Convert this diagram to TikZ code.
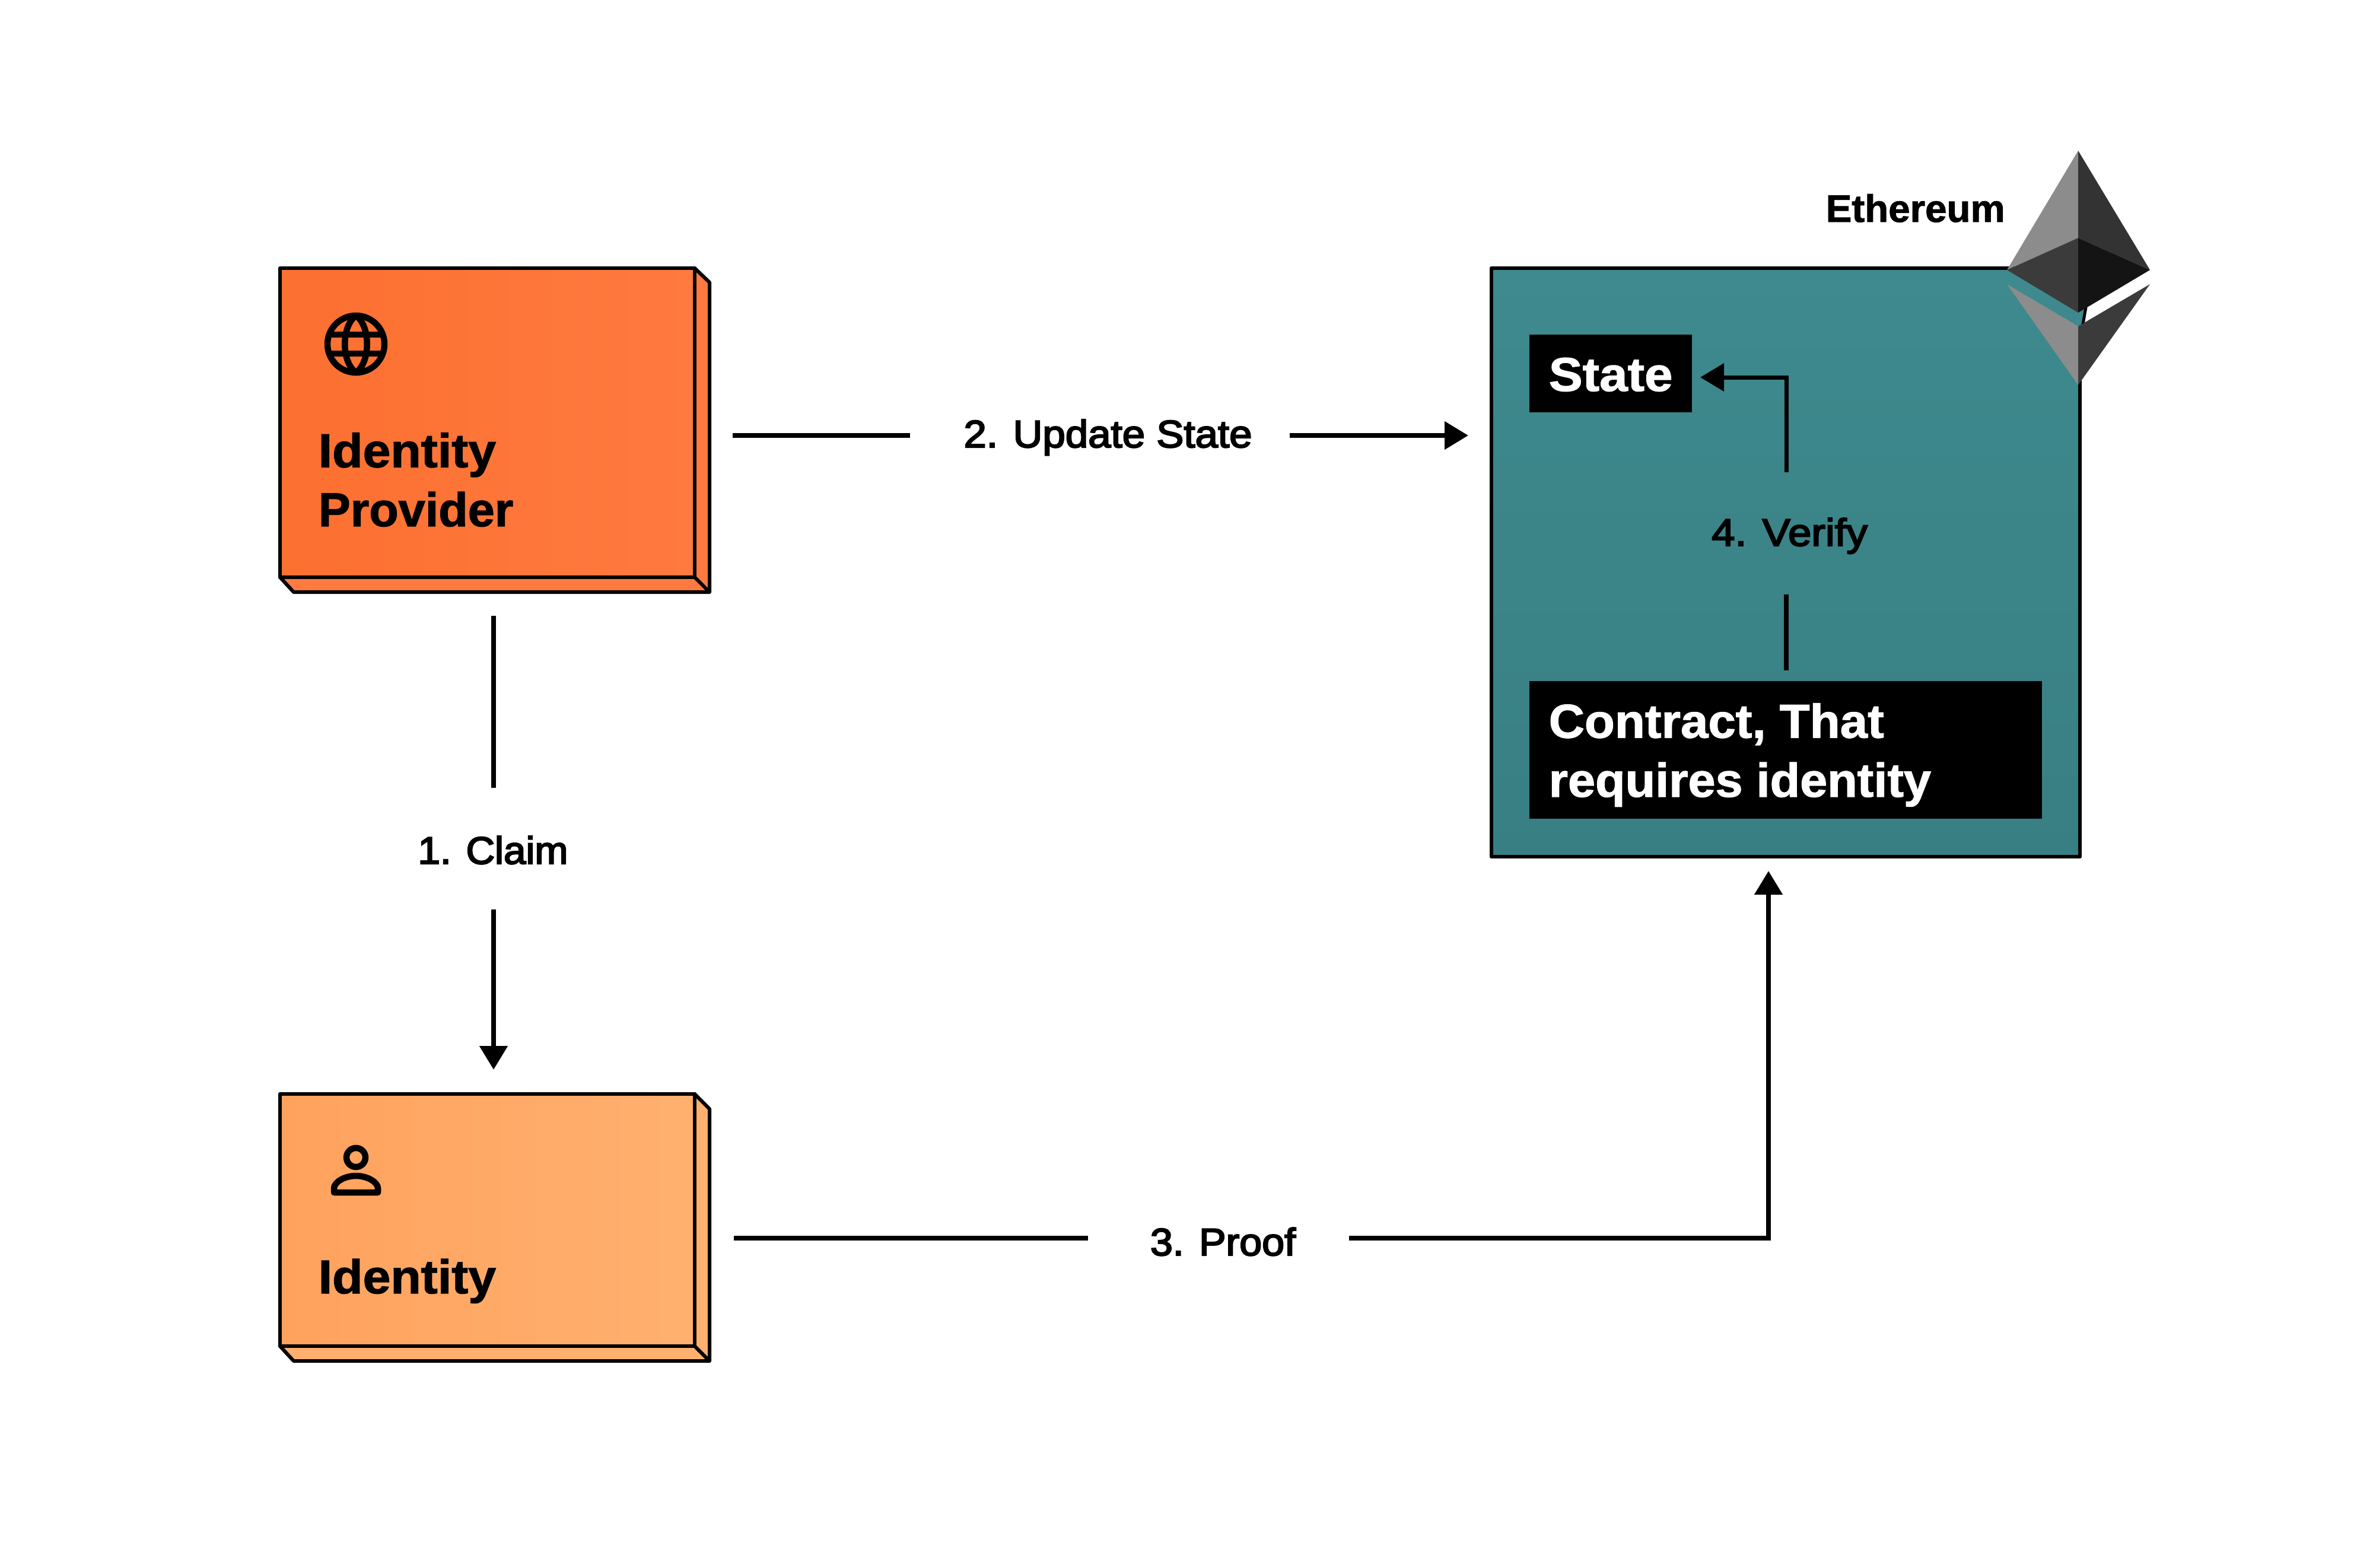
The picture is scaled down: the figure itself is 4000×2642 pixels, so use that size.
\documentclass[tikz,border=0pt]{standalone}
\usepackage{fontspec}
\setmainfont{Liberation Sans}
\newfontfamily\heavyfont[FakeBold=1.5]{Liberation Sans Bold}
\newfontfamily\midfont[FakeBold=3.5]{Liberation Sans}
\newcommand{\widened}[2]{{\addfontfeature{FakeStretch=#1}#2}}
\usetikzlibrary{arrows.meta}
\definecolor{inkc}{HTML}{000000}
\definecolor{ipLeft}{HTML}{FC7030}
\definecolor{ipRight}{HTML}{FF7A40}
\definecolor{idLeft}{HTML}{FFA25E}
\definecolor{idRight}{HTML}{FFB06F}
\definecolor{tealTop}{HTML}{3E8A8E}
\definecolor{tealBot}{HTML}{387F83}
\tikzset{
  panel/.style={draw=inkc,line width=0.06cm,rectangle,inner sep=0pt,outer sep=0pt,line join=round},
  face/.style={draw=inkc,line width=0.06cm,line join=round},
  conn/.style={draw=inkc,line width=0.08cm},
  arrowed/.style={conn,-{Triangle[length=0.40cm,width=0.46cm]}},
  boxlabel/.style={anchor=base west,inner sep=0pt,font=\heavyfont\fontsize{22.8pt}{28.3pt}\selectfont,align=left,text=inkc},
  steplabel/.style={anchor=base,inner sep=0pt,font=\midfont\fontsize{18.4pt}{22pt}\selectfont,text=inkc},
  whitelabel/.style={boxlabel,text=white},
  blackbox/.style={fill=inkc,draw=none,rectangle,inner sep=0pt,outer sep=0pt},
  icon/.style={draw=inkc,line width=0.105cm,line join=round}
}
\begin{document}
\begin{tikzpicture}[x=0.01cm,y=-0.01cm]
\useasboundingbox (0,0) rectangle (4000,2642);
\fill[white] (0,0) rectangle (4000,2642);

% Identity Provider box
\path[face,fill=ipRight] (1171,452) -- (1196,476) -- (1196,998) -- (495,998) -- (472,973) -- cycle;
\draw[face] (1171,973) -- (1196,998);
\node[panel,left color=ipLeft,right color=ipRight,minimum width=6.99cm,minimum height=5.21cm] (provider) at (821.5,712.5) {};
\node[boxlabel] (providertext) at (536,887) {\widened{1.05}{Identity}\\\widened{1.01}{Provider}};
% globe
\draw[icon] (600,580) circle (48);
\draw[icon] (600,532) .. controls (575,550) and (575,610) .. (600,628) .. controls (625,610) and (625,550) .. (600,532) -- cycle;
\draw[icon] (556,564) -- (644,564) (556,596) -- (644,596);

% Identity box
\path[face,fill=idRight] (1171,1844) -- (1196,1869) -- (1196,2294) -- (495,2294) -- (472,2269) -- cycle;
\draw[face] (1171,2269) -- (1196,2294);
\node[panel,left color=idLeft,right color=idRight,minimum width=6.99cm,minimum height=4.25cm] (identity) at (821.5,2056.5) {};
\node[boxlabel] (identitytext) at (536,2180) {\widened{1.05}{Identity}};
% person
\draw[icon] (600,1951) circle (16);
\draw[icon] (563,2010) -- (563,2003) .. controls (563,1993) and (580,1982) .. (600,1982) .. controls (620,1982) and (637,1993) .. (637,2003) -- (637,2010) -- cycle;

% Ethereum panel
\node[panel,top color=tealTop,bottom color=tealBot,minimum width=9.92cm,minimum height=9.92cm] (chain) at (3010,948) {};
\fill[tealTop] (3500,524) -- (3516,516) -- (3510,552) -- (3500,552) -- cycle;
\draw[draw=inkc,line width=0.05cm] (3516,518) -- (3510,552);

\node[blackbox,minimum width=2.74cm,minimum height=1.31cm] (state) at (2715,629.5) {};
\node[whitelabel] (statetext) at (2610,659) {\widened{1.065}{State}};
\node[blackbox,minimum width=8.64cm,minimum height=2.32cm] (contract) at (3010,1264) {};
\node[whitelabel] (contracttext) at (2610,1343) {\widened{1.04}{Contract, That}\\\widened{1.033}{requires identity}};

% Ethereum logo
\fill[fill=black!45] (3503,254) -- (3383,455) -- (3503,401) -- cycle;
\fill[fill=black!80] (3503,254) -- (3624,455) -- (3503,401) -- cycle;
\fill[fill=black!77] (3383,455) -- (3503,401) -- (3503,527) -- cycle;
\fill[fill=black!92] (3624,455) -- (3503,401) -- (3503,527) -- cycle;
\fill[fill=black!45] (3383,479) -- (3503,550) -- (3503,649) -- cycle;
\fill[fill=black!77] (3624,479) -- (3503,550) -- (3503,649) -- cycle;
\node[anchor=base west,inner sep=0pt,font=\heavyfont\fontsize{18.4pt}{22pt}\selectfont] (ethereumtext) at (3077,374) {\widened{1.012}{Ethereum}};

% Step labels
\node[steplabel] (claim) at (831,1456) {\widened{1.04}{1. Claim}};
\node[steplabel] (update) at (1867.5,754) {\widened{1.067}{2. Update State}};
\node[steplabel] (proof) at (2061.5,2116) {\widened{1.054}{3. Proof}};
\node[steplabel] (verify) at (3016.5,920) {\widened{1.096}{4. Verify}};

% Connector ends
\coordinate (c1a) at (832,1038);
\coordinate (c1b) at (832,1327.5);
\coordinate (c1c) at (832,1532.6);
\coordinate (c1d) at (832,1803);
\coordinate (c2a) at (1235,734);
\coordinate (c2b) at (1534,734);
\coordinate (c2c) at (2174,734);
\coordinate (c2d) at (2475,734);
\coordinate (c3a) at (1237,2087);
\coordinate (c3b) at (1834,2087);
\coordinate (c3c) at (2274,2087);
\coordinate (c3e) at (2981,2087);
\coordinate (c3d) at (2981,1468);
\coordinate (c4a) at (3011,1130);
\coordinate (c4b) at (3011,1002);
\coordinate (c4c) at (3011,796);
\coordinate (c4e) at (3011,636);
\coordinate (c4d) at (2866,636);

\draw[conn] (c1a) -- (c1b);
\draw[arrowed] (c1c) -- (c1d);
\draw[conn] (c2a) -- (c2b);
\draw[arrowed] (c2c) -- (c2d);
\draw[conn] (c3a) -- (c3b);
\draw[arrowed,line join=miter] (c3c) -- (c3e) -- (c3d);
\draw[conn] (c4a) -- (c4b);
\draw[arrowed,line width=0.07cm,line join=miter] (c4c) -- (c4e) -- (c4d);
\end{tikzpicture}
\end{document}
